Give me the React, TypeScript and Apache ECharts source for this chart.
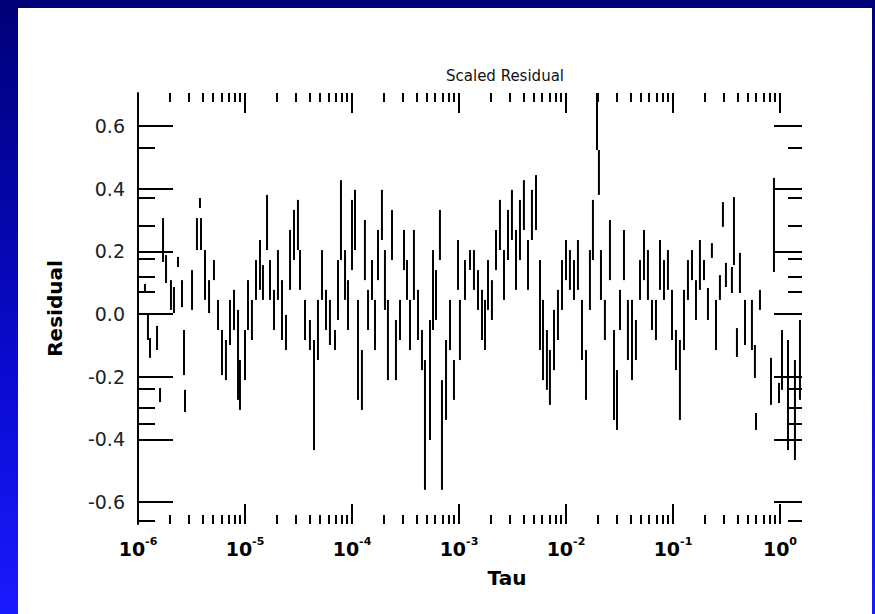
import React, { useEffect, useRef } from "react";
import * as echarts from "echarts";

const chartTitle = "Scaled Residual";
const xAxisName = "Tau";
const yAxisName = "Residual";

// x axis: log10(Tau)
const xMinExp = -6;
const xMaxExp = 0.206;
const xLabelExps = [-6, -5, -4, -3, -2, -1, 0];
const xMinorMultipliers = [2, 3, 4, 5, 6, 7, 8, 9];

// y axis
const yMin = -0.67;
const yMax = 0.705;
const yLabelValues = [-0.6, -0.4, -0.2, 0, 0.2, 0.4, 0.6];
const yMinorTickValues = [0.53, 0.37, 0.28, 0.175, 0.12, 0.07, -0.24, -0.3, -0.35, -0.66];

// residual trace, drawn as vertical strokes: log10(Tau), low, high
const segLogTau = [
  -5.935, -5.907, -5.888, -5.822, -5.794, -5.766, -5.738, -5.692, -5.664, -5.626,
  -5.589, -5.57, -5.561, -5.495, -5.449, -5.421, -5.411, -5.374, -5.336, -5.29,
  -5.252, -5.215, -5.178, -5.14, -5.103, -5.065, -5.047, -5.0, -4.972, -4.935,
  -4.897, -4.86, -4.832, -4.794, -4.766, -4.729, -4.692, -4.654, -4.617, -4.579,
  -4.542, -4.505, -4.486, -4.439, -4.393, -4.355, -4.318, -4.28, -4.243, -4.206,
  -4.159, -4.131, -4.103, -4.065, -4.037, -4.0, -3.972, -3.944, -3.907, -3.879,
  -3.85, -3.813, -3.785, -3.757, -3.72, -3.692, -3.664, -3.626, -3.589, -3.551,
  -3.514, -3.486, -3.458, -3.421, -3.383, -3.346, -3.318, -3.271, -3.243, -3.215,
  -3.178, -3.159, -3.121, -3.084, -3.047, -3.009, -2.991, -2.944, -2.897, -2.86,
  -2.822, -2.785, -2.757, -2.729, -2.692, -2.654, -2.617, -2.579, -2.542, -2.505,
  -2.467, -2.43, -2.393, -2.355, -2.318, -2.28, -2.243, -2.215, -2.178, -2.15,
  -2.112, -2.075, -2.037, -2.0, -1.963, -1.925, -1.888, -1.85, -1.813, -1.776,
  -1.748, -1.71, -1.692, -1.673, -1.636, -1.589, -1.551, -1.523, -1.495, -1.458,
  -1.421, -1.383, -1.346, -1.308, -1.271, -1.234, -1.196, -1.159, -1.121, -1.084,
  -1.047, -1.009, -0.972, -0.935, -0.897, -0.86, -0.822, -0.785, -0.748, -0.71,
  -0.673, -0.636, -0.598, -0.561, -0.533, -0.505, -0.449, -0.43, -0.374, -0.327,
  -0.262, -0.187, -0.056, 0.019, 0.075, 0.14, 0.187, -0.402, -0.234, -0.224,
  -0.084, -0.009,
];
const segLow = [
  0.07, -0.083, -0.14, -0.115, -0.281, 0.166, 0.099, 0.013, 0.003, 0.15,
  0.022, -0.195, -0.313, 0.013, 0.204, 0.338, 0.204, 0.045, 0.003, 0.108,
  -0.051, -0.195, -0.211, -0.099, -0.051, -0.274, -0.306, -0.211, -0.051, -0.083,
  0.045, 0.077, 0.045, 0.204, 0.045, -0.051, 0.045, -0.083, -0.115, 0.077,
  0.172, 0.204, 0.077, -0.083, -0.115, -0.434, -0.147, 0.045, -0.051, -0.099,
  -0.115, -0.019, 0.172, 0.045, -0.051, 0.14, 0.204, -0.274, -0.306, 0.108,
  -0.051, 0.045, -0.115, 0.108, 0.236, 0.013, -0.211, 0.172, -0.211, -0.083,
  0.14, 0.045, -0.115, 0.045, -0.083, -0.179, -0.561, -0.402, -0.051, -0.019,
  0.172, -0.561, -0.338, -0.115, -0.274, 0.077, -0.147, 0.045, 0.14, 0.077,
  0.013, -0.083, -0.115, 0.013, -0.019, 0.14, 0.204, 0.045, 0.172, 0.236,
  0.077, 0.172, 0.268, 0.077, 0.236, 0.268, -0.115, -0.211, -0.242, -0.29,
  -0.179, -0.083, 0.013, 0.108, 0.077, 0.045, 0.077, -0.147, -0.274, 0.013,
  0.172, 0.523, 0.38, 0.045, -0.083, 0.108, -0.338, -0.37, -0.051, 0.108,
  -0.147, -0.211, -0.147, 0.045, 0.108, 0.045, -0.051, -0.083, 0.077, 0.045,
  0.077, -0.083, -0.179, -0.338, -0.115, 0.045, 0.108, -0.019, 0.077, 0.108,
  -0.019, 0.179, -0.115, 0.045, 0.278, 0.086, 0.067, 0.156, 0.067, -0.099,
  -0.115, 0.013, 0.134, -0.242, -0.434, -0.466, -0.274, -0.137, -0.204, -0.37,
  -0.29, -0.284,
];
const segHigh = [
  0.096, -0.003, -0.077, -0.038, -0.236, 0.306, 0.188, 0.108, 0.086, 0.182,
  0.108, -0.051, -0.242, 0.14, 0.306, 0.37, 0.306, 0.204, 0.108, 0.172,
  0.045, -0.051, -0.083, 0.045, 0.077, 0.013, -0.147, -0.051, 0.108, 0.045,
  0.172, 0.236, 0.156, 0.38, 0.172, 0.077, 0.204, 0.108, -0.003, 0.268,
  0.332, 0.364, 0.204, 0.045, -0.019, -0.083, 0.045, 0.204, 0.077, 0.045,
  -0.051, 0.172, 0.427, 0.204, 0.108, 0.364, 0.396, 0.045, -0.115, 0.3,
  0.077, 0.172, 0.045, 0.268, 0.396, 0.204, 0.045, 0.332, -0.019, 0.045,
  0.268, 0.172, 0.045, 0.268, 0.077, -0.051, -0.147, -0.019, 0.204, 0.14,
  0.332, -0.211, -0.083, 0.045, -0.147, 0.236, 0.045, 0.172, 0.204, 0.204,
  0.14, 0.077, 0.045, 0.172, 0.108, 0.268, 0.364, 0.204, 0.332, 0.396,
  0.268, 0.364, 0.427, 0.236, 0.396, 0.443, 0.172, 0.045, -0.051, -0.115,
  0.013, 0.077, 0.172, 0.236, 0.204, 0.172, 0.236, 0.045, -0.115, 0.204,
  0.364, 0.705, 0.523, 0.204, 0.045, 0.3, -0.051, -0.179, 0.077, 0.268,
  0.045, 0.045, -0.019, 0.172, 0.268, 0.204, 0.045, 0.045, 0.236, 0.172,
  0.204, 0.077, -0.051, -0.083, 0.077, 0.172, 0.204, 0.108, 0.236, 0.172,
  0.083, 0.226, 0.045, 0.124, 0.357, 0.163, 0.15, 0.373, 0.195, 0.045,
  0.045, 0.077, 0.434, -0.051, -0.083, -0.147, -0.019, -0.045, -0.099, -0.316,
  -0.14, -0.22,
];

const FONT = "DejaVu Sans, Arial, sans-serif";

export default function App() {
  const ref = useRef<HTMLDivElement>(null);
  useEffect(() => {
    if (!ref.current) return;
    const chart = echarts.init(ref.current, undefined, { renderer: "svg" });
    const minorX: number[] = [];
    for (let e = xMinExp; e < Math.ceil(xMaxExp); e++) {
      xMinorMultipliers.forEach((m) => {
        const v = e + Math.log10(m);
        if (v <= xMaxExp) minorX.push(v);
      });
    }
    const data = segLogTau.map((x, i) => [x, segLow[i], segHigh[i]]);
    const baseX = {
      type: "value",
      min: xMinExp,
      max: xMaxExp,
      axisLine: { show: false, onZero: false },
      splitLine: { show: false },
      axisLabel: { show: false },
    };
    const baseY = {
      type: "value",
      min: yMin,
      max: yMax,
      axisLine: { show: false, onZero: false },
      splitLine: { show: false },
      axisLabel: { show: false },
    };
    const tickStyle = { color: "#000", width: 2 };
    chart.setOption({
      animation: false,
      title: {
        text: chartTitle,
        left: 500,
        top: 63,
        textAlign: "center",
        textStyle: { fontFamily: FONT, fontSize: 15, fontWeight: "normal", color: "#111" },
      },
      grid: { left: 138, right: 73, top: 93, bottom: 90, containLabel: false },
      xAxis: [
        {
          ...baseX,
          position: "bottom",
          name: xAxisName,
          nameLocation: "middle",
          nameGap: 44,
          nameTextStyle: {
            fontFamily: FONT,
            fontSize: 20,
            fontWeight: "bold",
            color: "#000",
            padding: [0, 0, 0, 74],
          },
          axisTick: { show: true, inside: true, length: 20, lineStyle: tickStyle, customValues: xLabelExps },
          axisLabel: {
            show: true,
            customValues: xLabelExps,
            margin: 12,
            formatter: (v: number) => `{b|10}{s|${Math.round(v)}}`,
            rich: {
              b: { fontFamily: FONT, fontSize: 19, fontWeight: "bold", color: "#000", lineHeight: 22, verticalAlign: "bottom" },
              s: { fontFamily: FONT, fontSize: 11, fontWeight: "bold", color: "#000", lineHeight: 12, verticalAlign: "top" },
            },
          },
        },
        {
          ...baseX,
          position: "bottom",
          axisTick: { show: true, inside: true, length: 9, lineStyle: tickStyle, customValues: minorX },
        },
        {
          ...baseX,
          position: "top",
          axisTick: { show: true, inside: true, length: 20, lineStyle: tickStyle, customValues: xLabelExps },
        },
        {
          ...baseX,
          position: "top",
          axisTick: { show: true, inside: true, length: 9, lineStyle: tickStyle, customValues: minorX },
        },
      ],
      yAxis: [
        {
          ...baseY,
          position: "left",
          name: yAxisName,
          nameLocation: "middle",
          nameGap: 73,
          nameRotate: 90,
          nameTextStyle: { fontFamily: FONT, fontSize: 20, fontWeight: "bold", color: "#000" },
          axisLine: { show: true, onZero: false, lineStyle: { color: "#000", width: 2 } },
          axisTick: { show: true, inside: true, length: 35, lineStyle: tickStyle, customValues: yLabelValues },
          axisLabel: {
            show: true,
            customValues: yLabelValues,
            margin: 13,
            formatter: (v: number) => v.toFixed(1),
            fontFamily: FONT,
            fontSize: 19,
            color: "#222",
          },
        },
        {
          ...baseY,
          position: "left",
          axisTick: { show: true, inside: true, length: 17, lineStyle: tickStyle, customValues: yMinorTickValues },
        },
        {
          ...baseY,
          position: "right",
          axisTick: { show: true, inside: true, length: 28, lineStyle: tickStyle, customValues: yLabelValues },
        },
        {
          ...baseY,
          position: "right",
          axisTick: { show: true, inside: true, length: 14, lineStyle: tickStyle, customValues: yMinorTickValues },
        },
      ],
      series: [
        {
          type: "custom",
          xAxisIndex: 0,
          yAxisIndex: 0,
          clip: true,
          data,
          encode: { x: 0, y: [1, 2] },
          renderItem: (params: any, api: any) => {
            const x = api.value(0);
            const p1 = api.coord([x, api.value(1)]);
            const p2 = api.coord([x, api.value(2)]);
            return {
              type: "line",
              shape: { x1: p1[0], y1: p1[1], x2: p2[0], y2: p2[1] },
              style: { stroke: "#000", lineWidth: 2 },
            };
          },
        },
      ],
    });
    return () => chart.dispose();
  }, []);

  return (
    <div
      style={{
        position: "fixed",
        left: 0,
        top: 0,
        width: 875,
        height: 614,
        background: "linear-gradient(180deg, #000078 0%, #0a0ad0 60%, #1a1aff 100%)",
        overflow: "hidden",
      }}
    >
      <div style={{ position: "absolute", left: 18, top: 8, right: 3, bottom: 0, background: "#fff" }} />
      <div ref={ref} style={{ position: "absolute", left: 0, top: 0, width: 875, height: 614 }} />
    </div>
  );
}
